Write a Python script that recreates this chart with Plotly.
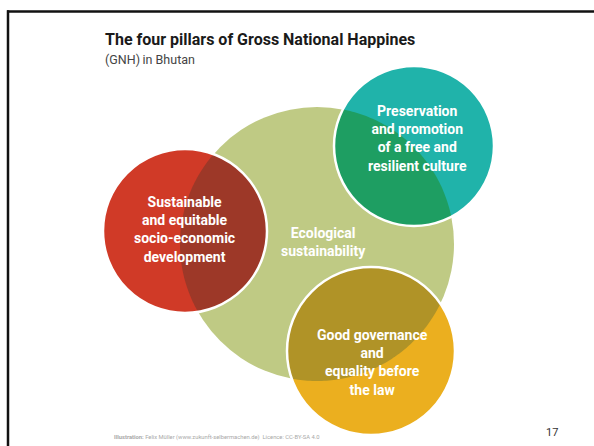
import numpy as np
import plotly.graph_objects as go

W, H = 594, 446

# Pillars (circle data)
pillars = ["Ecological<br>sustainability",
           "Sustainable<br>and equitable<br>socio-economic<br>development",
           "Preservation<br>and promotion<br>of a free and<br>resilient culture",
           "Good governance<br>and<br>equality before<br>the law"]
cx = [317, 185, 414, 371]
cy = [244, 231, 146, 351]
rad = [137, 82, 80, 84]
fill_colors = ["#BFCA84", "#D03A27", "#20B3AA", "#EBAF1F"]
overlap_colors = [None, "#9D3828", "#1E9E62", "#B09327"]
label_x = [323, 184, 417, 372]
label_y = [242, 229, 138, 362]

title = "The four pillars of Gross National Happines"
subtitle = "(GNH)\u2009in Bhutan"
footer_bold = "Illustration:"
footer = " Felix Müller (www.zukunft-selbermachen.de)  Licence: CC-BY-SA 4.0"
page_no = "17"


def circle_pts(x0, y0, r, n=360):
    t = np.linspace(0, 2 * np.pi, n, endpoint=False)
    return np.c_[x0 + r * np.cos(t), y0 + r * np.sin(t)]


def lens_path(a, b):
    pa = circle_pts(cx[a], cy[a], rad[a])
    pb = circle_pts(cx[b], cy[b], rad[b])
    ina = pa[np.hypot(pa[:, 0] - cx[b], pa[:, 1] - cy[b]) <= rad[b]]
    inb = pb[np.hypot(pb[:, 0] - cx[a], pb[:, 1] - cy[a]) <= rad[a]]
    pts = np.vstack([ina, inb])
    m = pts.mean(axis=0)
    ang = np.arctan2(pts[:, 1] - m[1], pts[:, 0] - m[0])
    pts = pts[np.argsort(ang)]
    return "M " + " L ".join(f"{p[0]:.2f},{p[1]:.2f}" for p in pts) + " Z"


shapes = []
# big green circle
shapes.append(dict(type="circle", xref="x", yref="y",
                   x0=cx[0] - rad[0], x1=cx[0] + rad[0],
                   y0=cy[0] - rad[0], y1=cy[0] + rad[0],
                   fillcolor=fill_colors[0], line=dict(width=0), layer="above"))
for i in range(1, 4):
    shapes.append(dict(type="circle", xref="x", yref="y",
                       x0=cx[i] - rad[i], x1=cx[i] + rad[i],
                       y0=cy[i] - rad[i], y1=cy[i] + rad[i],
                       fillcolor=fill_colors[i], line=dict(width=0), layer="above"))
    shapes.append(dict(type="path", xref="x", yref="y", path=lens_path(0, i),
                       fillcolor=overlap_colors[i], line=dict(width=0), layer="above"))
    shapes.append(dict(type="circle", xref="x", yref="y",
                       x0=cx[i] - rad[i], x1=cx[i] + rad[i],
                       y0=cy[i] - rad[i], y1=cy[i] + rad[i],
                       fillcolor="rgba(0,0,0,0)", line=dict(width=2.5, color="white"),
                       layer="above"))

# slide border
shapes.append(dict(type="line", xref="x", yref="y", x0=7, x1=W, y0=11.5, y1=11.5,
                   line=dict(color="#111111", width=2.5)))
shapes.append(dict(type="line", xref="x", yref="y", x0=8, x1=8, y0=10.3, y1=H,
                   line=dict(color="#111111", width=2.5)))

annotations = []
for i in range(4):
    annotations.append(dict(x=label_x[i], y=label_y[i], xref="x", yref="y",
                            text=f"<b>{pillars[i]}</b>", showarrow=False,
                            xanchor="center", yanchor="middle", align="center",
                            font=dict(family="Roboto", size=14, color="white")))
annotations.append(dict(x=103, y=39, xref="x", yref="y", text=f"<b>{title}</b>",
                        showarrow=False, xanchor="left", yanchor="middle",
                        font=dict(family="Roboto", size=16, color="#1a1a1a")))
annotations.append(dict(x=103, y=59, xref="x", yref="y", text=subtitle,
                        showarrow=False, xanchor="left", yanchor="middle",
                        font=dict(family="Roboto", size=12.5, color="#444444")))
annotations.append(dict(x=112, y=437, xref="x", yref="y",
                        text=f"<b>{footer_bold}</b>{footer}",
                        showarrow=False, xanchor="left", yanchor="middle",
                        font=dict(family="Roboto", size=5.8, color="#a8a8a8")))
annotations.append(dict(x=552, y=432, xref="x", yref="y", text=page_no,
                        showarrow=False, xanchor="center", yanchor="middle",
                        font=dict(family="Roboto", size=11, color="#333333")))

fig = go.Figure()
fig.add_trace(go.Scatter(x=[0, W], y=[0, H], mode="markers",
                         marker=dict(opacity=0), hoverinfo="skip", showlegend=False))
fig.update_layout(
    width=W, height=H, margin=dict(l=0, r=0, t=0, b=0),
    paper_bgcolor="white", plot_bgcolor="white",
    xaxis=dict(range=[0, W], visible=False, fixedrange=True),
    yaxis=dict(range=[H, 0], visible=False, fixedrange=True),
    shapes=shapes, annotations=annotations, showlegend=False,
)
fig.write_html("out.html", config={"displayModeBar": False})
